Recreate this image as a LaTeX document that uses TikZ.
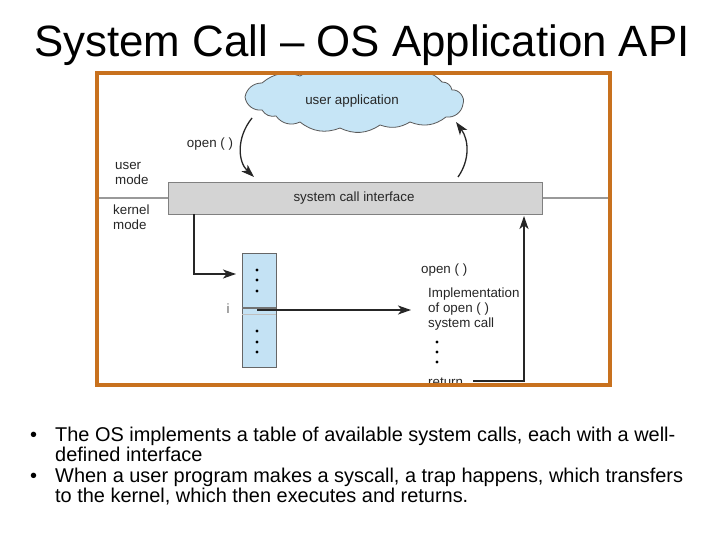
\documentclass[tikz,border=0pt]{standalone}
\usepackage{fontspec}
\setmainfont{Liberation Sans}
\usetikzlibrary{arrows.meta}
\definecolor{frameorange}{HTML}{C8711E}
\definecolor{cloudblue}{HTML}{C6E5F6}
\definecolor{tableblue}{HTML}{C4E2F4}
\definecolor{boxgray}{HTML}{D4D4D4}
\begin{document}
\begin{tikzpicture}[x=1bp,y=-1bp,
  lbl/.style={font=\fontsize{13.4}{15}\selectfont, text=black!85, inner sep=0},
  arr/.style={-{Stealth[length=13bp,width=9bp,inset=3.5bp]}, line width=1.3bp, draw=black!85},
  bodytext/.style={font=\fontsize{20}{22}\selectfont, anchor=base west, inner sep=0},
  dotm/.style={circle, fill=black, inner sep=0, minimum size=3.4bp}]
\useasboundingbox (0,0) rectangle (720,540);
\fill[white] (0,0) rectangle (720,540);
% title
\node[font=\fontsize{44}{46}\selectfont, anchor=base, inner sep=0] (title) at (362,57) {System Call – OS Application API};
% mode separator
\draw[black!40, line width=1.2bp] (97,198) -- (610,198);
% cloud (clipped by the frame)
\begin{scope}
\clip (99,75) rectangle (608,383);
\draw[fill=cloudblue, draw=black!65, line width=0.8bp]
  (245,97) to[bend left=40] (262,83) to[bend left=30] (300,76) to[bend left=25] (352,72)
  to[bend left=25] (410,74) to[bend left=35] (442,82) to[bend left=40] (452,90)
  to[bend left=60] (463,104) to[bend left=45] (446,117) to[bend left=30] (410,122)
  to[bend left=25] (380,125) to[bend left=30] (340,128) to[bend left=30] (300,122)
  to[bend left=40] (276,116) to[bend left=35] (262,110) to[bend left=45] cycle;
\end{scope}
\node[lbl] (app) at (352,101) {user application};
% system call interface
\node[draw=black!50, fill=boxgray, minimum width=374bp, minimum height=32bp, anchor=north west, inner sep=0] (sci) at (168,182) {};
\node[lbl] (scitext) at (354,198) {system call interface};
% mode labels
\node[lbl, align=left, anchor=north west] (umode) at (115,162) {user\\mode};
\node[lbl, align=left, anchor=north west] (kmode) at (113,205) {kernel\\mode};
% open() label
\node[lbl] (openlbl) at (210,144) {open ( )};
% curved arrows
\coordinate (c1s) at (252,118);
\coordinate (c1e) at (254,177);
\coordinate (c2s) at (458,177);
\coordinate (c2e) at (456,122);
\draw[arr] (c1s) .. controls (236,138) and (238,162) .. (c1e);
\draw[arr] (c2s) .. controls (470,160) and (469,140) .. (c2e);
% table
\node[draw=black!60, fill=tableblue, minimum width=34bp, minimum height=114bp, anchor=north west, inner sep=0] (table) at (242,253) {};
\draw[black!55, line width=1.2bp] (242,308) -- (276,308);
\draw[black!25, line width=0.6bp] (242,314) -- (276,314);
\foreach \yy in {270,280,291,331,342,352} \node[dotm] at (257,\yy) {};
\node[lbl, text=black!60] (ilbl) at (228,309) {i};
% arrow into table
\coordinate (ta) at (194,214);
\coordinate (tb) at (236,274);
\draw[arr] (ta) |- (tb);
% arrow to implementation
\coordinate (ia) at (257,310);
\coordinate (ib) at (411,310);
\draw[arr] (ia) -- (ib);
% implementation text
\node[lbl, anchor=west] (openimpl) at (421,270) {open ( )};
\node[lbl, anchor=west, align=left] (impl) at (428,309) {Implementation\\of open ( )\\system call};
\foreach \yy in {342,352,362} \node[dotm] at (437,\yy) {};
\node[lbl, anchor=west] (ret) at (428,382) {return};
\coordinate (ra) at (473,381);
\coordinate (rb) at (524,216);
\draw[arr] (ra) -| (rb);
% frame
\draw[frameorange, line width=4bp] (97,73) rectangle (610,385);
% bullets
\node[bodytext] (b1) at (30,441) {•};
\node[bodytext] (l1) at (55,441) {The OS implements a table of available system calls, each with a well-};
\node[bodytext] (l2) at (55,461) {defined interface};
\node[bodytext] (b2) at (30,482) {•};
\node[bodytext] (l3) at (55,482) {When a user program makes a syscall, a trap happens, which transfers};
\node[bodytext] (l4) at (55,502) {to the kernel, which then executes and returns.};
\end{tikzpicture}
\end{document}
